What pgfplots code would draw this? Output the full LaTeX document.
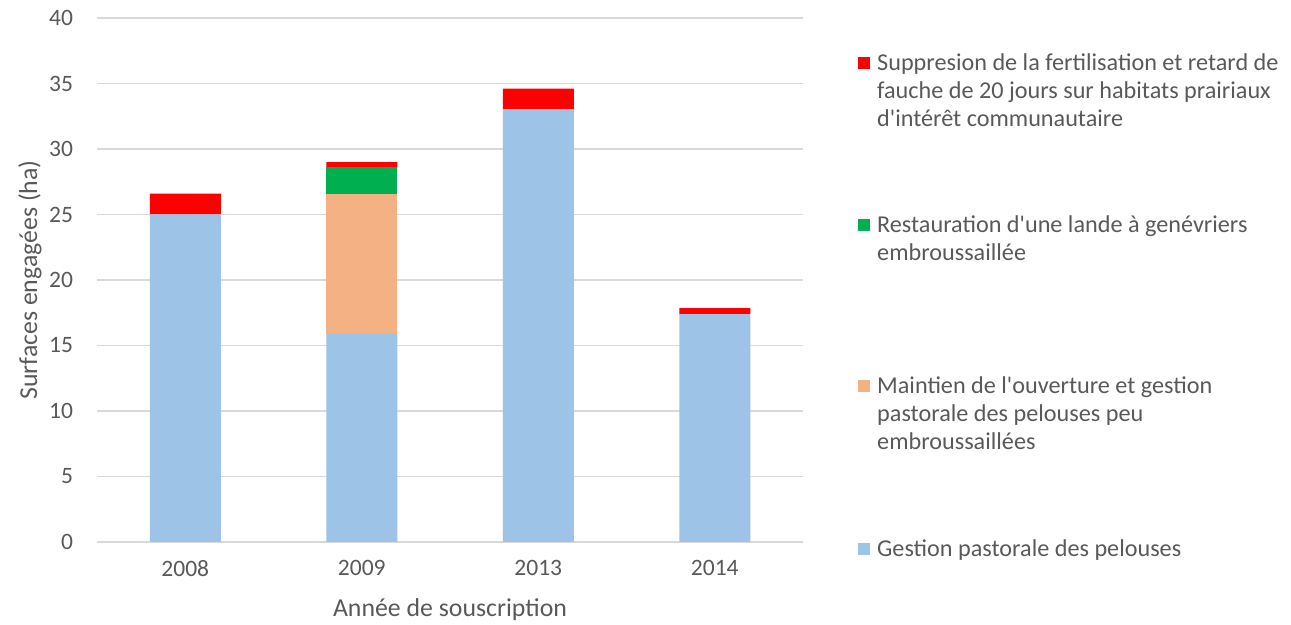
\documentclass[border=0pt]{standalone}
\usepackage{pgfplots}
\pgfplotsset{compat=1.18}
\usepackage{fontspec}
\setmainfont{Carlito}[Ligatures=TeXOff]
\definecolor{txt}{HTML}{595959}
\definecolor{gridc}{HTML}{D9D9D9}
\definecolor{cblue}{HTML}{9DC3E6}
\definecolor{corange}{HTML}{F4B183}
\definecolor{cgreen}{HTML}{00B050}
\definecolor{cred}{HTML}{FF0000}
\begin{document}
\fontsize{23.5bp}{28bp}\selectfont
\begin{tikzpicture}[x=1bp,y=1bp]
\path[use as bounding box] (0,0) rectangle (1291,625);
\begin{axis}[
  at={(97bp,83bp)}, anchor=south west,
  scale only axis, width=706bp, height=524bp,
  xmin=-0.5, xmax=3.5, ymin=0, ymax=40,
  ybar stacked, bar width=71bp,
  xtick={0,1,2,3}, xticklabels={2008,2009,2013,2014},
  ytick={0,5,...,40},
  axis line style={draw=none},
  major tick length=0pt,
  ymajorgrids, grid style={color=gridc, line width=1.3bp},
  tick label style={font=\fontsize{23.5bp}{28bp}\selectfont, text=txt},
  /pgf/number format/assume math mode=true,
  yticklabel style={anchor=east, xshift=-16bp},
  xticklabel style={yshift=-10bp},
  xlabel={Année de souscription},
  ylabel={Surfaces engagées (ha)},
  label style={font=\fontsize{25.8bp}{30bp}\selectfont, text=txt},
  xlabel style={at={(axis description cs:0.5,-0.13)}, anchor=center},
  ylabel style={at={(axis description cs:-0.095,0.5)}, anchor=center, rotate=0},
]
\addplot[fill=cblue, draw=none] coordinates {(0,25.0) (1,15.9) (2,33.05) (3,17.4)};
\addplot[fill=corange, draw=none] coordinates {(0,0) (1,10.7) (2,0) (3,0)};
\addplot[fill=cgreen, draw=none] coordinates {(0,0) (1,2.0) (2,0) (3,0)};
\addplot[fill=cred, draw=none] coordinates {(0,1.6) (1,0.4) (2,1.55) (3,0.45)};
\end{axis}
% legend
\begin{scope}[every node/.style={anchor=base west, inner sep=0pt, text=txt, font=\fontsize{24.2bp}{28bp}\selectfont}]
\fill[cred] (858,625-57) rectangle (870,625-69);
\node at (877,625-71) {Suppresion de la fertilisation et retard de};
\node at (877,625-99) {fauche de 20 jours sur habitats prairiaux};
\node at (877,625-127) {d'intérêt communautaire};
\fill[cgreen] (858,625-219) rectangle (870,625-231);
\node at (877,625-233) {Restauration d'une lande à genévriers};
\node at (877,625-261) {embroussaillée};
\fill[corange] (858,625-380) rectangle (870,625-392);
\node at (877,625-394) {Maintien de l'ouverture et gestion};
\node at (877,625-422) {pastorale des pelouses peu};
\node at (877,625-450) {embroussaillées};
\fill[cblue] (858,625-543) rectangle (870,625-555);
\node at (877,625-557) {Gestion pastorale des pelouses};
\end{scope}
\end{tikzpicture}
\end{document}
